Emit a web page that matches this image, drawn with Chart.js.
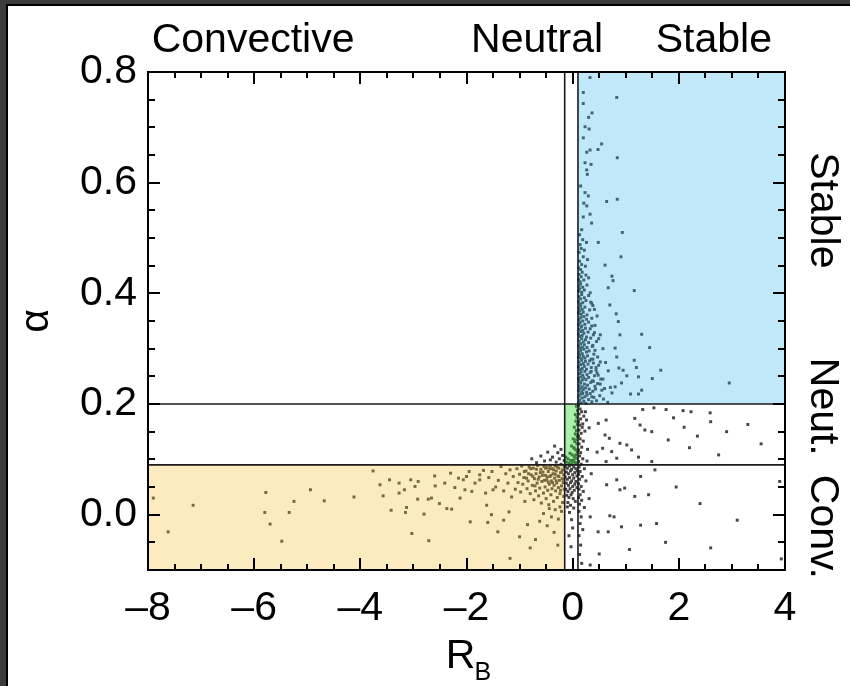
<!DOCTYPE html>
<html><head><meta charset="utf-8">
<script src="https://cdn.jsdelivr.net/npm/chart.js@4/dist/chart.umd.min.js"></script>
<style>
html,body{margin:0;padding:0;background:#3c3c3c;width:850px;height:686px;overflow:hidden}
#frame{position:absolute;left:6px;top:4px;width:842px;height:680px;border-left:2px solid #000;border-top:2px solid #000;background:#fff}
canvas{display:block}
</style></head>
<body><div id="frame"><canvas id="c" width="842" height="680"></canvas></div>
<script>
// ---- axis ranges & ticks ----
const xRange = [-8, 4];
const yRange = [-0.1, 0.8];
const xTickVals = [-8, -6, -4, -2, 0, 2, 4];
const yTickVals = [0.0, 0.2, 0.4, 0.6, 0.8];
const xMinorStep = 0.5;
const yMinorStep = 0.05;
// ---- regime thresholds ----
const rbConv = -0.15, rbStable = 0.1;
const alphaConv = 0.09, alphaStable = 0.2;
const topLabels = [["Convective", -6.02], ["Neutral", -0.67], ["Stable", 2.66]];
const rightLabels = [["Stable", 0.55], ["Neut.", 0.195], ["Conv.", -0.022]];

// ---- data: [RB, alpha] pairs ----
const stableCore = [
 [0.11,0.203],[0.12,0.214],[0.13,0.207],[0.15,0.218],[0.16,0.202],[0.18,0.211],[0.19,0.219],[0.21,0.205],[0.23,0.213],[0.25,0.201],
 [0.27,0.216],[0.30,0.208],[0.33,0.219],[0.36,0.204],[0.40,0.212],[0.45,0.206],[0.51,0.215],[0.58,0.209],[0.66,0.203],
 [0.11,0.224],[0.12,0.233],[0.14,0.228],[0.15,0.238],[0.17,0.222],[0.18,0.231],[0.20,0.226],[0.22,0.236],[0.24,0.229],[0.26,0.221],
 [0.28,0.234],[0.31,0.227],[0.34,0.239],[0.38,0.223],[0.42,0.232],[0.47,0.237],[0.55,0.225],[0.71,0.230],
 [0.11,0.246],[0.12,0.241],[0.13,0.255],[0.15,0.249],[0.16,0.258],[0.18,0.243],[0.19,0.252],[0.21,0.247],[0.23,0.259],[0.25,0.244],
 [0.27,0.253],[0.30,0.248],[0.33,0.257],[0.37,0.242],[0.41,0.251],[0.46,0.256],[0.53,0.245],
 [0.11,0.267],[0.12,0.276],[0.14,0.262],[0.15,0.271],[0.17,0.279],[0.18,0.264],[0.20,0.273],[0.22,0.268],[0.24,0.277],[0.26,0.263],
 [0.29,0.272],[0.32,0.278],[0.35,0.266],[0.39,0.274],[0.44,0.261],[0.49,0.270],
 [0.11,0.284],[0.12,0.293],[0.13,0.288],[0.15,0.297],[0.16,0.282],[0.18,0.291],[0.20,0.286],[0.21,0.299],[0.23,0.283],[0.26,0.294],
 [0.28,0.287],[0.31,0.296],[0.35,0.281],[0.40,0.290],[0.47,0.285],
 [0.11,0.305],[0.12,0.314],[0.14,0.301],[0.15,0.309],[0.17,0.318],[0.18,0.303],[0.20,0.312],[0.22,0.307],[0.24,0.316],[0.27,0.302],
 [0.30,0.311],[0.34,0.319],[0.38,0.306],[0.45,0.313],
 [0.11,0.326],[0.12,0.335],[0.13,0.322],[0.15,0.331],[0.16,0.339],[0.18,0.324],[0.19,0.333],[0.21,0.328],[0.24,0.337],[0.26,0.321],
 [0.29,0.330],[0.33,0.336],[0.39,0.325],
 [0.11,0.343],[0.12,0.352],[0.14,0.347],[0.15,0.356],[0.17,0.341],[0.19,0.350],[0.21,0.358],[0.23,0.344],[0.26,0.353],[0.30,0.348],
 [0.36,0.355],[0.42,0.342],
 [0.11,0.364],[0.12,0.373],[0.13,0.368],[0.15,0.377],[0.16,0.362],[0.18,0.371],[0.20,0.366],[0.23,0.375],[0.27,0.361],[0.32,0.370],[0.38,0.378],
 [0.11,0.385],[0.12,0.394],[0.14,0.381],[0.15,0.390],[0.17,0.398],[0.19,0.383],[0.22,0.392],[0.25,0.387],[0.30,0.396],[0.36,0.382],
 [0.11,0.404],[0.12,0.413],[0.13,0.408],[0.15,0.417],[0.17,0.402],[0.19,0.411],[0.22,0.406],[0.27,0.415],[0.33,0.401],
 [0.11,0.425],[0.12,0.434],[0.14,0.421],[0.16,0.430],[0.18,0.438],[0.21,0.424],[0.25,0.433],[0.30,0.428],
 [0.11,0.446],[0.13,0.458],[0.15,0.443],[0.17,0.452],[0.20,0.466],[0.24,0.449],[0.28,0.461],
 [0.12,0.474],[0.14,0.488],[0.16,0.481],[0.19,0.497],[0.13,0.506],[0.22,0.478],[0.17,0.515],[0.26,0.492],
 [0.36,0.213],[0.43,0.227],[0.39,0.241],[0.48,0.252],[0.35,0.259],[0.44,0.266],[0.38,0.281],[0.52,0.276],[0.42,0.297],[0.37,0.304],
 [0.49,0.318],[0.41,0.329],[0.36,0.341],[0.46,0.359],[0.34,0.384],[0.41,0.371]
];
const stableSparse = [
 [0.327,0.790],[0.20,0.763],[0.83,0.754],[0.20,0.743],[0.365,0.726],[0.30,0.718],[0.233,0.701],[0.31,0.697],
 [0.20,0.681],[0.545,0.670],[0.478,0.660],[0.327,0.659],[0.265,0.655],[0.84,0.645],[0.233,0.636],[0.346,0.633],
 [0.265,0.623],[0.276,0.615],[0.15,0.594],[0.233,0.582],[0.295,0.576],[0.21,0.563],[0.265,0.558],[0.64,0.566],
 [0.84,0.570],[0.327,0.543],[0.20,0.538],[0.357,0.527],[0.935,0.510],[0.483,0.492],[0.91,0.466],[0.61,0.451],
 [0.74,0.431],[0.76,0.423],[0.67,0.41],[0.70,0.379],[0.82,0.363],[0.86,0.349],[0.89,0.325],[0.80,0.301],
 [0.83,0.285],[0.87,0.265],[0.95,0.261],[1.02,0.251],[0.92,0.238],[0.80,0.231],[0.74,0.220],[1.09,0.218],
 [1.24,0.218],[1.30,0.225],[1.20,0.266],[1.24,0.249],[1.16,0.279],[1.45,0.302],[1.30,0.326],[1.16,0.405],
 [1.50,0.246],[1.66,0.261],[2.95,0.238],[0.52,0.325],[0.57,0.30],[0.62,0.275],[0.67,0.26],[0.57,0.245],
 [0.52,0.236],[0.60,0.228]
];
const neutralPts = [
 [0.07,0.196],[0.09,0.188],[0.05,0.181],[0.08,0.176],[0.06,0.169],[0.09,0.163],[0.03,0.158],[0.07,0.152],[0.05,0.146],[0.09,0.141],
 [0.01,0.137],[0.04,0.132],[0.08,0.128],[-0.02,0.124],[0.02,0.121],[0.06,0.117],[0.09,0.113],[-0.05,0.111],[-0.01,0.108],[0.03,0.105],
 [0.07,0.102],[-0.09,0.101],[-0.04,0.098],[0.00,0.096],[0.05,0.094],[0.08,0.092],[-0.12,0.095],[-0.07,0.093],[-0.02,0.091],[0.02,0.099],
 [-0.13,0.104],[0.06,0.108],[0.04,0.119],[0.08,0.144],[0.06,0.135]
];
const columnPts = [
 [-0.14,0.087],[-0.10,0.084],[-0.06,0.088],[-0.02,0.082],[0.02,0.086],[0.06,0.083],[0.09,0.079],[-0.12,0.077],[-0.08,0.074],[-0.04,0.079],
 [0.00,0.072],[0.04,0.076],[0.08,0.070],[-0.14,0.068],[-0.10,0.064],[-0.06,0.067],[-0.02,0.061],[0.02,0.066],[0.06,0.060],[-0.12,0.057],
 [-0.08,0.053],[-0.04,0.058],[0.00,0.051],[0.04,0.055],[0.08,0.049],[-0.13,0.046],[-0.09,0.042],[-0.05,0.047],[-0.01,0.040],[0.03,0.044],
 [-0.11,0.035],[-0.07,0.031],[-0.03,0.036],[0.01,0.029],[-0.09,0.022],[-0.04,0.017],[0.02,0.012],[-0.06,0.004],[-0.02,-0.009],[0.00,-0.024],
 [-0.07,-0.038],[-0.03,-0.058],[-0.10,0.014],[0.05,0.024]
];
const rightCore = [
 [0.11,0.197],[0.14,0.191],[0.17,0.186],[0.12,0.182],[0.21,0.178],[0.15,0.173],[0.11,0.168],[0.26,0.171],[0.13,0.162],[0.18,0.158],
 [0.12,0.153],[0.16,0.147],[0.23,0.151],[0.11,0.142],[0.14,0.137],[0.20,0.133],[0.12,0.128],[0.17,0.122],[0.11,0.117],[0.15,0.112],
 [0.28,0.118],[0.13,0.106],[0.19,0.101],[0.11,0.096],[0.16,0.091],[0.12,0.086],[0.22,0.083],[0.14,0.078],[0.11,0.073],[0.18,0.069],
 [0.13,0.064],[0.25,0.061],[0.11,0.056],[0.16,0.051],[0.12,0.046],[0.20,0.042],[0.14,0.036],[0.11,0.031],[0.17,0.026],[0.31,0.029],
 [0.13,0.019],[0.22,0.013],[0.12,0.006],[0.16,-0.004],[0.14,-0.016],[0.19,-0.027],[0.12,-0.038],[0.15,-0.055],[0.13,-0.072],[0.17,-0.088],
 [0.24,0.186],[0.19,0.164],[0.31,0.157],[0.27,0.097],[0.35,0.074]
];
const rightSparse = [
 [0.63,0.171],[0.483,0.165],[1.17,0.174],[1.27,0.162],[1.36,0.153],[1.49,0.150],[0.61,0.144],[0.69,0.138],
 [0.89,0.129],[1.02,0.126],[0.565,0.120],[0.735,0.114],[1.11,0.117],[1.24,0.104],[0.46,0.113],[0.63,0.096],
 [0.83,0.102],[1.49,0.096],[0.64,0.054],[0.83,0.063],[0.89,0.045],[0.98,0.048],[1.17,0.033],[1.43,0.036],
 [1.55,0.081],[1.28,0.069],[0.70,-0.002],[0.78,-0.004],[0.33,-0.004],[0.92,-0.022],[0.48,-0.031],[0.67,-0.031],
 [1.28,-0.019],[1.58,-0.016],[0.50,-0.071],[1.07,-0.063],[0.33,-0.091],[1.32,0.19],[1.53,0.193],[1.76,0.19],
 [2.08,0.188],[2.23,0.186],[2.59,0.184],[1.90,0.175],[2.10,0.158],[2.35,0.142],[2.60,0.168],[2.90,0.150],
 [3.30,0.163],[2.20,0.121],[2.75,0.108],[3.55,0.128],[1.80,0.135],[1.95,0.050],[2.40,0.020],[3.10,-0.010],
 [3.90,0.060],[3.93,-0.080],[1.75,-0.050],[2.60,-0.060]
];
const convCore = [
 [-0.16,0.087],[-0.17,0.072],[-0.18,0.058],[-0.16,0.046],[-0.19,0.081],[-0.20,0.065],[-0.21,0.052],[-0.22,0.091],[-0.23,0.076],[-0.24,0.038],
 [-0.25,0.062],[-0.26,0.084],[-0.27,0.049],[-0.28,0.070],[-0.29,0.031],[-0.30,0.057],[-0.17,0.033],[-0.19,0.022],[-0.24,0.014],
 [-0.31,0.079],[-0.32,0.043],[-0.33,0.088],[-0.34,0.066],[-0.35,0.053],[-0.36,0.024],[-0.37,0.074],[-0.38,0.083],[-0.39,0.047],[-0.40,0.061],
 [-0.41,0.036],[-0.42,0.089],[-0.43,0.069],[-0.44,0.055],[-0.45,0.018],[-0.46,0.078],[-0.47,0.044],[-0.48,0.085],[-0.49,0.063],[-0.50,0.029],
 [-0.51,0.071],[-0.52,0.050],[-0.54,0.087],[-0.55,0.039],[-0.56,0.077],[-0.58,0.060],[-0.59,0.021],[-0.60,0.082],[-0.62,0.048],[-0.63,0.068],
 [-0.64,0.034],[-0.66,0.089],[-0.67,0.057],[-0.69,0.074],[-0.70,0.043],[-0.72,0.065],[-0.73,0.027],[-0.74,0.084],
 [-0.76,0.053],[-0.78,0.072],[-0.80,0.038],[-0.82,0.086],[-0.84,0.061],[-0.86,0.047],[-0.88,0.079],[-0.90,0.024],[-0.92,0.067],[-0.94,0.055],
 [-0.96,0.088],[-0.98,0.041],[-1.00,0.073],[-1.03,0.058],[-1.05,0.083],
 [-1.08,0.046],[-1.12,0.069],[-1.15,0.032],[-1.18,0.081],[-1.22,0.057],[-1.26,0.074],[-1.30,0.043],[-1.35,0.087],[-1.40,0.062],[-1.45,0.050],
 [-1.52,0.078],[-1.58,0.067],[-1.64,0.039],
 [-0.16,0.098],[-0.19,0.107],[-0.22,0.118],[-0.25,0.101],[-0.28,0.112],[-0.31,0.095],[-0.34,0.124],[-0.38,0.104],[-0.42,0.099],[-0.47,0.113],
 [-0.53,0.097],[-0.60,0.106],[-0.68,0.094],[-0.77,0.101],
 [-0.21,0.006],[-0.27,-0.008],[-0.33,0.009],[-0.40,-0.004],[-0.48,-0.020],[-0.55,0.002],[-0.62,-0.012],[-0.35,-0.032],[-0.70,-0.045],[-0.28,-0.055],
 [-0.85,-0.018],[-0.44,0.011],
 [-0.18,0.064],[-0.21,0.077],[-0.23,0.044],[-0.26,0.069],[-0.29,0.086],[-0.31,0.061],[-0.33,0.073],[-0.36,0.081],[-0.38,0.058],[-0.41,0.071],
 [-0.43,0.083],[-0.46,0.059],[-0.48,0.068],[-0.51,0.084],[-0.53,0.062],[-0.57,0.071],[-0.61,0.076],[-0.65,0.064],[-0.68,0.082],[-0.71,0.052],
 [-0.75,0.069],[-0.79,0.083],[-0.83,0.074],[-0.87,0.066],[-0.91,0.078]
];
const convSparse = [
 [-7.90,0.030],[-7.62,-0.031],[-7.15,0.017],[-5.78,0.040],[-5.80,0.004],[-5.70,-0.017],[-5.48,-0.048],
 [-5.34,0.004],[-5.25,0.024],[-4.94,0.045],[-4.68,0.025],[-4.12,0.032],[-3.76,0.079],[-3.63,0.054],
 [-3.57,0.034],[-3.45,0.063],[-3.42,0.008],[-3.27,0.057],[-3.27,0.039],[-3.17,0.045],[-3.13,0.013],
 [-3.15,0.004],[-3.05,0.063],[-3.03,-0.034],[-2.97,0.051],[-2.91,0.060],[-2.92,0.028],[-2.80,0.001],
 [-2.71,-0.047],[-2.72,0.028],[-2.66,0.030],[-2.59,0.052],[-2.51,0.020],[-2.41,0.057],[-2.37,0.011],
 [-2.28,0.010],[-2.22,0.049],[-2.15,0.066],[-2.12,0.030],[-2.06,0.063],[-2.03,0.045],[-2.00,0.069],
 [-1.93,-0.013],[-1.90,0.042],[-1.84,0.057],[-1.75,0.063],[-1.75,0.072],[-1.62,0.017],[-1.60,-0.014],
 [-1.53,0.000],[-1.50,0.045],[-1.41,-0.031],[-1.18,-0.079],[-1.68,0.080],[-1.95,0.078],[-2.30,0.075],
 [-2.60,0.070],[-1.30,-0.010],[-1.00,-0.040],[-0.80,-0.060],[-1.20,0.005]
];

// ---- build ----
const fromPairs = p => p.map(([xv, yv]) => ({x: xv, y: yv}));
const pointColor = 'rgb(70,70,70)';
const ds = (label, data) => ({label, data, pointStyle: 'rect', pointRadius: 2.1,
  backgroundColor: pointColor, borderWidth: 0, pointHoverRadius: 2.1});

const FONT = '"Liberation Sans", Arial, Helvetica, sans-serif';
const convFill = 'rgba(248,188,45,0.30)';
const stableFill = 'rgba(45,178,232,0.30)';
const neutFill = 'rgba(42,217,42,0.40)';

const overlay = {
  id: 'overlay',
  afterDatasetsDraw(chart) {
    const {ctx, chartArea: a, scales: {x, y}} = chart;
    const px = v => x.getPixelForValue(v), py = v => y.getPixelForValue(v);
    ctx.save();
    const rect = (x0, x1, y0, y1, c) => {
      ctx.fillStyle = c;
      ctx.fillRect(px(x0), py(y1), px(x1) - px(x0), py(y0) - py(y1));
    };
    rect(xRange[0], rbConv, yRange[0], alphaConv, convFill);
    rect(rbStable, xRange[1], alphaStable, yRange[1], stableFill);
    rect(rbConv, rbStable, alphaConv, alphaStable, neutFill);
    // threshold lines
    ctx.strokeStyle = '#1c1c1c'; ctx.lineWidth = 1.6;
    ctx.beginPath();
    [rbConv, rbStable].forEach(v => { ctx.moveTo(px(v), a.top); ctx.lineTo(px(v), a.bottom); });
    [alphaConv, alphaStable].forEach(v => { ctx.moveTo(a.left, py(v)); ctx.lineTo(a.right, py(v)); });
    ctx.stroke();
    ctx.restore();
  },
  afterDraw(chart) {
    const {ctx, chartArea: a, scales: {x, y}} = chart;
    const px = v => x.getPixelForValue(v), py = v => y.getPixelForValue(v);
    ctx.save();
    // ticks (inward, all four sides)
    ctx.strokeStyle = '#000'; ctx.lineWidth = 2;
    ctx.beginPath();
    const nx = Math.round((xRange[1] - xRange[0]) / xMinorStep);
    for (let i = 0; i <= nx; i++) {
      const v = xRange[0] + i * xMinorStep;
      const major = xTickVals.some(t => Math.abs(t - v) < 1e-6);
      const L = major ? 12 : 6, X = Math.round(px(v));
      ctx.moveTo(X, a.bottom); ctx.lineTo(X, a.bottom - L);
      ctx.moveTo(X, a.top); ctx.lineTo(X, a.top + L);
    }
    const ny = Math.round((yRange[1] - yRange[0]) / yMinorStep);
    for (let i = 0; i <= ny; i++) {
      const v = yRange[0] + i * yMinorStep;
      const major = yTickVals.some(t => Math.abs(t - v) < 1e-6);
      const L = major ? 12 : 7, Y = Math.round(py(v));
      ctx.moveTo(a.left, Y); ctx.lineTo(a.left + L, Y);
      ctx.moveTo(a.right, Y); ctx.lineTo(a.right - L, Y);
    }
    ctx.stroke();
    ctx.lineWidth = 2;
    ctx.strokeRect(a.left, a.top, a.right - a.left, a.bottom - a.top);
    // texts
    ctx.fillStyle = '#000';
    ctx.font = '41px ' + FONT;
    ctx.textAlign = 'center'; ctx.textBaseline = 'alphabetic';
    topLabels.forEach(([t, v]) => ctx.fillText(t, px(v), a.top - 20));
    rightLabels.forEach(([t, v]) => {
      ctx.save(); ctx.translate(a.right + 37, py(v)); ctx.rotate(Math.PI / 2);
      ctx.textBaseline = 'middle'; ctx.fillText(t, 0, 0); ctx.restore();
    });
    // x title R_B
    const cx = px(-2.0);
    ctx.textAlign = 'center'; ctx.textBaseline = 'alphabetic';
    ctx.font = '41px ' + FONT;
    ctx.fillText('R', cx - 6, a.bottom + 98);
    ctx.textAlign = 'left';
    ctx.font = '25px ' + FONT;
    ctx.fillText('B', cx + 8, a.bottom + 110);
    ctx.restore();
  }
};

new Chart(document.getElementById('c'), {
  type: 'scatter',
  data: { datasets: [
    ds('stable', fromPairs(stableCore).concat(fromPairs(stableSparse))),
    ds('neutral', fromPairs(neutralPts).concat(fromPairs(columnPts))),
    ds('right', fromPairs(rightCore).concat(fromPairs(rightSparse))),
    ds('convective', fromPairs(convCore).concat(fromPairs(convSparse)))
  ]},
  options: {
    responsive: false, animation: false, devicePixelRatio: 1,
    layout: { padding: { top: 66, right: 65, left: 0, bottom: 0 } },
    plugins: { legend: { display: false }, tooltip: { enabled: false } },
    scales: {
      x: {
        type: 'linear', min: xRange[0], max: xRange[1],
        grid: { display: false, drawTicks: false }, border: { display: false },
        afterBuildTicks: s => { s.ticks = xTickVals.map(v => ({ value: v })); },
        afterFit: s => { s.height = 116; },
        ticks: { color: '#000', font: { family: FONT, size: 41 }, padding: 14, maxRotation: 0,
          callback: v => v < 0 ? '\u2013' + Math.abs(v) : String(v) }
      },
      y: {
        type: 'linear', min: yRange[0], max: yRange[1],
        grid: { display: false, drawTicks: false }, border: { display: false },
        afterBuildTicks: s => { s.ticks = yTickVals.map(v => ({ value: v })); },
        afterFit: s => { s.width = 140; },
        ticks: { color: '#000', font: { family: FONT, size: 41 }, padding: 11,
          callback: v => Number(v).toFixed(1) },
        title: { display: true, text: '\u03b1', color: '#000', font: { family: FONT, size: 41 }, padding: { top: 4, bottom: 0 } }
      }
    }
  },
  plugins: [overlay]
});
</script></body></html>
